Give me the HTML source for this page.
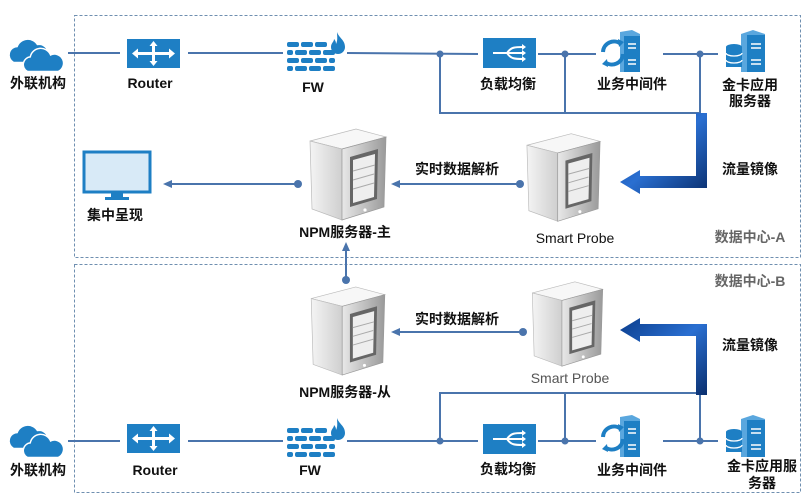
<!DOCTYPE html>
<html><head><meta charset="utf-8">
<style>
html,body{margin:0;padding:0;background:#fff;}
svg{display:block;}
text{font-family:"Liberation Sans","Noto Sans CJK SC",sans-serif;font-weight:bold;font-size:14px;fill:#111;text-anchor:middle;}
</style></head><body>
<svg width="810" height="501" viewBox="0 0 810 501" xmlns="http://www.w3.org/2000/svg">
<defs>
<linearGradient id="gf" x1="0" y1="0" x2="1" y2="0"><stop offset="0" stop-color="#f4f4f4"/><stop offset="1" stop-color="#cfcfcf"/></linearGradient>
<linearGradient id="gs" x1="0" y1="0" x2="1" y2="0"><stop offset="0" stop-color="#e8e8e8"/><stop offset="1" stop-color="#9a9a9a"/></linearGradient>
<linearGradient id="gb" x1="0" y1="0" x2="1" y2="1"><stop offset="0" stop-color="#0b3d8c"/><stop offset="0.5" stop-color="#2a6fd1"/><stop offset="1" stop-color="#0a2f6e"/></linearGradient>
<symbol id="srv" viewBox="0 0 80 95">
  <path d="M2 14 L48 2 L78 10 L34 22 Z" fill="#f7f7f7" stroke="#bbb" stroke-width="0.7"/>
  <path d="M2 14 L34 22 L34 93 L4 82 Z" fill="url(#gf)" stroke="#bbb" stroke-width="0.7"/>
  <path d="M34 22 L78 10 L76 80 L34 93 Z" fill="url(#gs)" stroke="#999" stroke-width="0.7"/>
  <path d="M42 30 L70 22 L69 72 L42 80 Z" fill="#666"/>
  <path d="M45 33 L67 27 L66 70 L45 76 Z" fill="#eee"/>
  <path d="M45 44 L67 38 M45 53 L66 47 M45 62 L66 56" stroke="#aaa" stroke-width="1"/>
  <circle cx="57" cy="83" r="1.6" fill="#fff"/>
</symbol>
<symbol id="cloud" viewBox="0 0 62 36">
  <path d="M6 26 a8 8 0 0 1 4-15 a11 11 0 0 1 20-2 a8 8 0 0 1 4 17 Z" fill="#1e7fc4"/>
  <path d="M20 36 a8 8 0 0 1 3-15 a11 11 0 0 1 21-2 a9 9 0 0 1 8 17 Z" fill="#1e7fc4" stroke="#fff" stroke-width="1.5"/>
</symbol>
<symbol id="router" viewBox="0 0 53 29">
  <rect width="53" height="29" fill="#1e7fc4"/>
  <path d="M8 14.5 h37 M26.5 4 v21" stroke="#fff" stroke-width="3"/>
  <path d="M5 14.5 l6-5 v10z M48 14.5 l-6-5 v10z M26.5 2 l-4 5 h8z M26.5 27 l-4-5 h8z" fill="#fff"/>
</symbol>
<symbol id="fw" viewBox="0 0 62 40">
  <g fill="#1e7fc4">
  <rect x="2" y="10" width="12" height="5" rx="2"/><rect x="16" y="10" width="12" height="5" rx="2"/><rect x="30" y="10" width="12" height="5" rx="2"/>
  <rect x="2" y="18" width="6" height="5" rx="2"/><rect x="10" y="18" width="12" height="5" rx="2"/><rect x="24" y="18" width="12" height="5" rx="2"/><rect x="38" y="18" width="12" height="5" rx="2"/>
  <rect x="2" y="26" width="12" height="5" rx="2"/><rect x="16" y="26" width="12" height="5" rx="2"/><rect x="30" y="26" width="12" height="5" rx="2"/><rect x="44" y="26" width="6" height="5" rx="2"/>
  <rect x="2" y="34" width="6" height="5" rx="2"/><rect x="10" y="34" width="12" height="5" rx="2"/><rect x="24" y="34" width="12" height="5" rx="2"/><rect x="38" y="34" width="12" height="5" rx="2"/>
  <path d="M52 0 c2 6 8 8 8 15 a7 7 0 0 1 -14 0 c0-4 3-5 3-8 c2 2 2 4 2 5 c2-4 1-8 1-12z"/>
  </g>
</symbol>
<symbol id="lb" viewBox="0 0 53 30">
  <rect width="53" height="30" fill="#1e7fc4"/>
  <path d="M10 15 h14 M24 15 c4-6 8-6 16-6 M24 15 h16 M24 15 c4 6 8 6 16 6" stroke="#fff" stroke-width="2" fill="none"/>
  <path d="M43 9 l-4-3 v6z M43 15 l-4-3 v6z M43 21 l-4-3 v6z" fill="#fff"/>
</symbol>
<symbol id="mw" viewBox="0 0 57 42">
  <path d="M20 2 L32 0 L40 4 L40 42 L20 42 Z" fill="#5aa7de"/>
  <rect x="24" y="6" width="16" height="36" fill="#1e7fc4"/>
  <path d="M28 14 h8 M28 18 h8 M28 30 h8 M28 34 h8" stroke="#fff" stroke-width="1.5"/>
  <path d="M3 22 a11 11 0 0 1 18-8" stroke="#1e7fc4" stroke-width="4" fill="none"/>
  <path d="M23 24 a11 11 0 0 1 -18 8" stroke="#1e7fc4" stroke-width="4" fill="none"/>
  <path d="M18 9 l6 3 l-5 5z M8 37 l-6-3 l5-5z" fill="#1e7fc4"/>
</symbol>
<symbol id="gold" viewBox="0 0 50 42">
  <path d="M16 4 L28 0 L40 4 L40 42 L16 42 Z" fill="#5aa7de"/>
  <rect x="22" y="5" width="18" height="37" fill="#1e7fc4"/>
  <path d="M26 14 h10 M26 18 h10 M26 30 h10 M26 34 h10" stroke="#fff" stroke-width="1.5"/>
  <ellipse cx="9" cy="17" rx="8" ry="3" fill="#1e7fc4"/>
  <rect x="1" y="17" width="16" height="20" fill="#1e7fc4"/>
  <path d="M1 23 a8 3 0 0 0 16 0 M1 30 a8 3 0 0 0 16 0" stroke="#fff" stroke-width="1.3" fill="none"/>
</symbol>
</defs>

<rect x="74.5" y="15.5" width="726" height="242" fill="none" stroke="#6f8fb0" stroke-width="1" stroke-dasharray="3,2"/>
<rect x="74.5" y="264.5" width="726" height="228" fill="none" stroke="#6f8fb0" stroke-width="1" stroke-dasharray="3,2"/>

<g stroke="#4a74ac" stroke-width="2" fill="none">
<path d="M68 53 H120 M188 53 H283 M347 53 L478 54 M538 54 H596 M663 54 H718"/>
<path d="M440 54 V113 H700 V54 M565 54 V113"/>
<path d="M68 441 H120 M188 441 H283 M347 441 L478 441 M538 441 H596 M663 441 H718"/>
<path d="M440 441 V393 H700 V441 M565 441 V393"/>
<path d="M298 184 H170 M520 184 H398 M523 332 H398 M346 280 V250"/>
</g>
<g fill="#4a74ac">
<circle cx="440" cy="54" r="3.5"/><circle cx="565" cy="54" r="3.5"/><circle cx="700" cy="54" r="3.5"/>
<circle cx="440" cy="441" r="3.5"/><circle cx="565" cy="441" r="3.5"/><circle cx="700" cy="441" r="3.5"/>
<circle cx="298" cy="184" r="4"/><circle cx="520" cy="184" r="4"/><circle cx="523" cy="332" r="4"/><circle cx="346" cy="280" r="4"/>
<path d="M163 184 l9-4 v8z M391 184 l9-4 v8z M391 332 l9-4 v8z M346 242 l-4 9 h8z"/>
</g>

<path d="M696 113 H707 V188 H640 V194 L620 182 L640 170 V176 H696 Z" fill="url(#gb)"/>
<path d="M696 395 H707 V324 H640 V318 L620 330 L640 342 V336 H696 Z" fill="url(#gb)"/>

<use href="#cloud" x="8" y="36" width="60" height="36"/>
<use href="#cloud" x="8" y="422" width="60" height="36"/>
<use href="#router" x="127" y="39" width="53" height="29"/>
<use href="#router" x="127" y="424" width="53" height="29"/>
<use href="#fw" x="285" y="32" width="62" height="40"/>
<use href="#fw" x="285" y="418" width="62" height="40"/>
<use href="#lb" x="483" y="38" width="53" height="30"/>
<use href="#lb" x="483" y="424" width="53" height="30"/>
<use href="#mw" x="600" y="30" width="57" height="42"/>
<use href="#mw" x="600" y="415" width="57" height="42"/>
<use href="#gold" x="725" y="30" width="50" height="42"/>
<use href="#gold" x="725" y="415" width="50" height="42"/>
<use href="#srv" x="308" y="127" width="80" height="95"/>
<use href="#srv" x="308" y="285" width="80" height="92"/>
<use href="#srv" x="525" y="130" width="77" height="95"/>
<use href="#srv" x="530" y="280" width="75" height="88"/>
<rect x="84" y="152" width="66" height="40" fill="#d8eaf7" stroke="#1e7fc4" stroke-width="3"/>
<path d="M111 193 h12 v4 h6 v3 h-24 v-3 h6z" fill="#1e7fc4"/>

<text x="38" y="88">外联机构</text>
<text x="150" y="88">Router</text>
<text x="313" y="92">FW</text>
<text x="508" y="89">负载均衡</text>
<text x="632" y="89">业务中间件</text>
<text x="750" y="90">金卡应用</text>
<text x="750" y="106">服务器</text>
<text x="750" y="174">流量镜像</text>
<text x="457" y="174">实时数据解析</text>
<text x="115" y="220">集中呈现</text>
<text x="345" y="237">NPM服务器-主</text>
<text x="575" y="243" style="font-weight:normal">Smart Probe</text>
<text x="750" y="242" style="fill:#666">数据中心-A</text>
<text x="750" y="286" style="fill:#666">数据中心-B</text>
<text x="457" y="324">实时数据解析</text>
<text x="750" y="350">流量镜像</text>
<text x="570" y="383" style="font-weight:normal;fill:#555">Smart Probe</text>
<text x="345" y="397">NPM服务器-从</text>
<text x="38" y="475">外联机构</text>
<text x="155" y="475">Router</text>
<text x="310" y="475">FW</text>
<text x="508" y="474">负载均衡</text>
<text x="632" y="475">业务中间件</text>
<text x="762" y="471">金卡应用服</text>
<text x="762" y="488">务器</text>
</svg>
</body></html>
